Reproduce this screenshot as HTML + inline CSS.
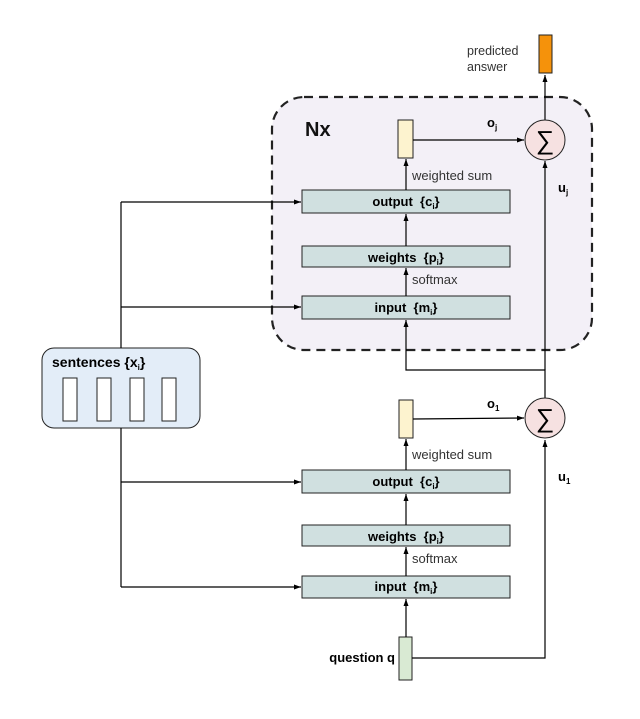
<!DOCTYPE html>
<html><head><style>
body{margin:0;background:#fff;}
svg text{font-family:"Liberation Sans",Arial,sans-serif;}
</style></head><body>
<svg width="640" height="714" viewBox="0 0 640 714" xmlns="http://www.w3.org/2000/svg">
<defs><marker id="a" markerWidth="8" markerHeight="8" refX="7" refY="4" orient="auto" markerUnits="userSpaceOnUse"><path d="M0,1.5 L7,4 L0,6.5 z" fill="#000"/></marker></defs>
<rect x="272" y="97" width="320" height="253" rx="32" fill="#f3f0f7" stroke="#222" stroke-width="2.2" stroke-dasharray="9,6"/>
<text x="305" y="136" font-size="20" font-weight="bold" fill="#111">Nx</text>
<rect x="539" y="35" width="13" height="38" fill="#f5920b" stroke="#222" stroke-width="1"/>
<text x="467" y="55" font-size="12.5" fill="#333">predicted</text>
<text x="467" y="71" font-size="12.5" fill="#333">answer</text>
<line x1="545" y1="120" x2="545" y2="75" stroke="#000" stroke-width="1.2" marker-end="url(#a)"/>
<g stroke="#222" stroke-width="1">
<rect x="398" y="120" width="15" height="38" fill="#fdf3cf"/>
<circle cx="545" cy="140" r="20" fill="#f6e1e1"/>
<rect x="302" y="190" width="208" height="23" fill="#d0e0e0"/>
<rect x="302" y="246" width="208" height="21" fill="#d0e0e0"/>
<rect x="302" y="296" width="208" height="23" fill="#d0e0e0"/>
</g>
<text x="545" y="149" font-size="26" text-anchor="middle">∑</text>
<line x1="413" y1="140" x2="524" y2="140" stroke="#000" stroke-width="1.2" marker-end="url(#a)"/>
<text x="487" y="127" font-size="13" font-weight="bold">o<tspan font-size="8" dy="3">j</tspan></text>
<text x="558" y="192" font-size="13" font-weight="bold">u<tspan font-size="8" dy="3">j</tspan></text>
<line x1="406" y1="190" x2="406" y2="159" stroke="#000" stroke-width="1.2" marker-end="url(#a)"/>
<line x1="406" y1="246" x2="406" y2="214" stroke="#000" stroke-width="1.2" marker-end="url(#a)"/>
<line x1="406" y1="296" x2="406" y2="268" stroke="#000" stroke-width="1.2" marker-end="url(#a)"/>
<text x="412" y="180" font-size="13" fill="#333">weighted sum</text>
<text x="412" y="284" font-size="13" fill="#333">softmax</text>
<text x="406" y="206" font-size="13" font-weight="bold" text-anchor="middle">output&#160; {c<tspan font-size="8" dy="3">i</tspan><tspan dy="-3">}</tspan></text>
<text x="406" y="262" font-size="13" font-weight="bold" text-anchor="middle">weights&#160; {p<tspan font-size="8" dy="3">i</tspan><tspan dy="-3">}</tspan></text>
<text x="406" y="312" font-size="13" font-weight="bold" text-anchor="middle">input&#160; {m<tspan font-size="8" dy="3">i</tspan><tspan dy="-3">}</tspan></text>
<polyline points="545,398 545,370 406,370 406,320" fill="none" stroke="#000" stroke-width="1.2" marker-end="url(#a)"/>
<line x1="545" y1="370" x2="545" y2="161" stroke="#000" stroke-width="1.2" marker-end="url(#a)"/>
<rect x="42" y="348" width="158" height="80" rx="12" fill="#e3edf8" stroke="#222" stroke-width="1"/>
<text x="52" y="367" font-size="14" font-weight="bold">sentences {x<tspan font-size="8" dy="3">i</tspan><tspan dy="-3">}</tspan></text>
<g fill="#fff" stroke="#222" stroke-width="1">
<rect x="63" y="378" width="14" height="43"/><rect x="97" y="378" width="14" height="43"/>
<rect x="130" y="378" width="14" height="43"/><rect x="162" y="378" width="14" height="43"/>
</g>
<polyline points="121,348 121,202" fill="none" stroke="#000" stroke-width="1.2"/>
<line x1="121" y1="202" x2="301" y2="202" stroke="#000" stroke-width="1.2" marker-end="url(#a)"/>
<line x1="121" y1="307" x2="301" y2="307" stroke="#000" stroke-width="1.2" marker-end="url(#a)"/>
<line x1="121" y1="428" x2="121" y2="587" stroke="#000" stroke-width="1.2"/>
<line x1="121" y1="482" x2="301" y2="482" stroke="#000" stroke-width="1.2" marker-end="url(#a)"/>
<line x1="121" y1="587" x2="301" y2="587" stroke="#000" stroke-width="1.2" marker-end="url(#a)"/>
<g stroke="#222" stroke-width="1">
<rect x="399" y="400" width="14" height="38" fill="#fdf3cf"/>
<circle cx="545" cy="418" r="20" fill="#f6e1e1"/>
<rect x="302" y="470" width="208" height="23" fill="#d0e0e0"/>
<rect x="302" y="525" width="208" height="21" fill="#d0e0e0"/>
<rect x="302" y="576" width="208" height="22" fill="#d0e0e0"/>
<rect x="399" y="637" width="13" height="43" fill="#d9ead3"/>
</g>
<text x="545" y="427" font-size="26" text-anchor="middle">∑</text>
<line x1="413" y1="419" x2="524" y2="418" stroke="#000" stroke-width="1.2" marker-end="url(#a)"/>
<text x="487" y="408" font-size="13" font-weight="bold">o<tspan font-size="8" dy="3">1</tspan></text>
<text x="558" y="481" font-size="13" font-weight="bold">u<tspan font-size="8" dy="3">1</tspan></text>
<line x1="406" y1="470" x2="406" y2="439" stroke="#000" stroke-width="1.2" marker-end="url(#a)"/>
<line x1="406" y1="525" x2="406" y2="494" stroke="#000" stroke-width="1.2" marker-end="url(#a)"/>
<line x1="406" y1="576" x2="406" y2="547" stroke="#000" stroke-width="1.2" marker-end="url(#a)"/>
<line x1="406" y1="637" x2="406" y2="599" stroke="#000" stroke-width="1.2" marker-end="url(#a)"/>
<text x="412" y="459" font-size="13" fill="#333">weighted sum</text>
<text x="412" y="563" font-size="13" fill="#333">softmax</text>
<text x="406" y="486" font-size="13" font-weight="bold" text-anchor="middle">output&#160; {c<tspan font-size="8" dy="3">i</tspan><tspan dy="-3">}</tspan></text>
<text x="406" y="541" font-size="13" font-weight="bold" text-anchor="middle">weights&#160; {p<tspan font-size="8" dy="3">i</tspan><tspan dy="-3">}</tspan></text>
<text x="406" y="591" font-size="13" font-weight="bold" text-anchor="middle">input&#160; {m<tspan font-size="8" dy="3">i</tspan><tspan dy="-3">}</tspan></text>
<text x="395" y="662" font-size="13" font-weight="bold" text-anchor="end">question q</text>
<polyline points="412,658 545,658 545,440" fill="none" stroke="#000" stroke-width="1.2" marker-end="url(#a)"/>
</svg>
</body></html>
